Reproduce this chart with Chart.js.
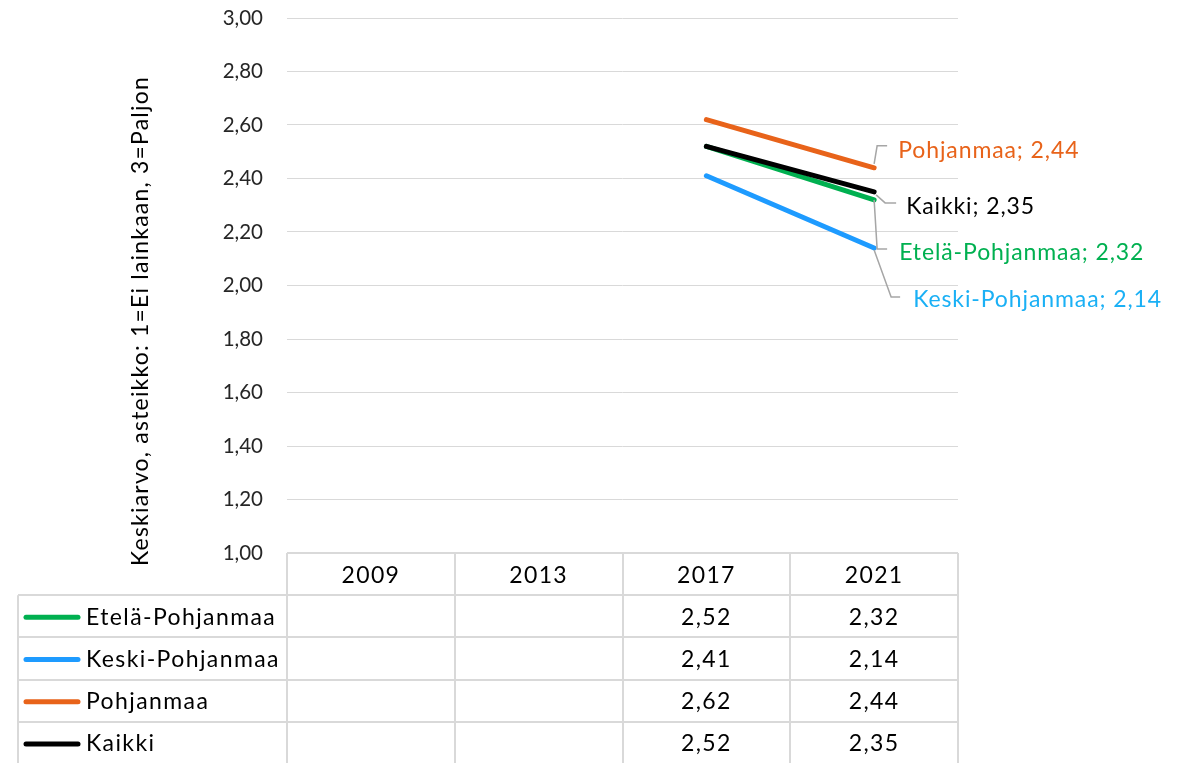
<!DOCTYPE html>
<html>
<head>
<meta charset="utf-8">
<script src="https://cdn.jsdelivr.net/npm/chart.js@4"></script>
<style>
  body { margin: 0; background: #fff; }
  #wrap { width: 1181px; height: 763px; position: relative; }
</style>
</head>
<body>
<div id="wrap"><canvas id="chart"></canvas></div>
<script>
// Data
const years = ["2009", "2013", "2017", "2021"];
const seriesNames = ["Etelä-Pohjanmaa", "Keski-Pohjanmaa", "Pohjanmaa", "Kaikki"];
const etelaPohjanmaa = [null, null, 2.52, 2.32];
const keskiPohjanmaa = [null, null, 2.41, 2.14];
const pohjanmaa = [null, null, 2.62, 2.44];
const kaikki = [null, null, 2.52, 2.35];
const yTicks = [1.0, 1.2, 1.4, 1.6, 1.8, 2.0, 2.2, 2.4, 2.6, 2.8, 3.0];
const yTitle = "Keskiarvo, asteikko: 1=Ei lainkaan, 3=Paljon";

const lineColors = ["#00B050", "#1E9BFF", "#E8631A", "#000000"];
const labelColors = ["#00B050", "#1AB0F5", "#E8631A", "#000000"];
const FONT = "Lato, 'Open Sans', sans-serif";
const TEXT_FONT = "23px " + FONT;

function fmt(v) {
    return v.toFixed(2).replace(".", ",");
}

// label offsets from the last point: leader path + text anchor
const labelLayout = [
    { path: [[0, 0], [3, 49], [13, 49]], text: [25, 53] },   // Etelä
    { path: [[0, 2], [17, 49], [26, 49]], text: [39, 52] },  // Keski
    { path: [[0, -4], [3, -22], [13, -22]], text: [24, -17] }, // Pohjanmaa
    { path: [[2, 3], [11, 11], [22, 11]], text: [32, 15] }   // Kaikki
];

// Draws the data table, y title and point labels
const tablePlugin = {
    id: "tablePlugin",
    afterDraw(chart) {
        const ctx = chart.ctx;
        const area = chart.chartArea;
        const x = chart.scales.x;
        const colW = x.getPixelForValue(1) - x.getPixelForValue(0);
        const left = 18;
        const headTop = area.bottom;
        const rowH = 42.2;
        const bodyTop = headTop + rowH;
        const bottom = bodyTop + rowH * seriesNames.length;

        ctx.save();
        // grid of the table
        ctx.strokeStyle = "#D9D9D9";
        ctx.lineWidth = 2;
        ctx.beginPath();
        ctx.moveTo(area.left, headTop);
        ctx.lineTo(area.right, headTop);
        for (let r = 0; r <= seriesNames.length; r++) {
            const y = Math.round(bodyTop + r * rowH);
            ctx.moveTo(left, y);
            ctx.lineTo(area.right, y);
        }
        ctx.moveTo(left, bodyTop);
        ctx.lineTo(left, bottom);
        for (let c = 0; c <= years.length; c++) {
            const cx = Math.round(area.left + c * colW);
            ctx.moveTo(cx, headTop);
            ctx.lineTo(cx, bottom);
        }
        ctx.stroke();

        ctx.font = TEXT_FONT;
        ctx.letterSpacing = "1.4px";
        ctx.fillStyle = "#000";
        ctx.textBaseline = "middle";
        ctx.textAlign = "center";
        years.forEach((yr, i) => {
            ctx.fillText(yr, x.getPixelForValue(i), headTop + rowH / 2 + 1);
        });

        chart.data.datasets.forEach((ds, r) => {
            const cy = bodyTop + r * rowH + rowH / 2 + 1;
            // legend key
            ctx.strokeStyle = lineColors[r];
            ctx.lineWidth = 5;
            ctx.lineCap = "round";
            ctx.beginPath();
            ctx.moveTo(26, cy);
            ctx.lineTo(78, cy);
            ctx.stroke();
            ctx.textAlign = "left";
            ctx.fillStyle = "#000";
            ctx.fillText(ds.label, 86, cy);
            ctx.textAlign = "center";
            ds.data.forEach((v, i) => {
                if (v !== null) ctx.fillText(fmt(v), x.getPixelForValue(i), cy);
            });
        });

        // y axis title
        ctx.letterSpacing = "1.2px";
        ctx.save();
        ctx.translate(141, 321);
        ctx.rotate(-Math.PI / 2);
        ctx.textAlign = "center";
        ctx.fillStyle = "#000";
        ctx.fillText(yTitle, 0, 0);
        ctx.restore();

        // point labels with leader lines
        ctx.letterSpacing = "0.9px";
        chart.data.datasets.forEach((ds, d) => {
            const meta = chart.getDatasetMeta(d);
            const last = ds.data.length - 1;
            const pt = meta.data[last];
            const lay = labelLayout[d];
            ctx.strokeStyle = "#A6A6A6";
            ctx.lineWidth = 1.5;
            ctx.lineCap = "butt";
            ctx.beginPath();
            lay.path.forEach((p, k) => {
                if (k === 0) ctx.moveTo(pt.x + p[0], pt.y + p[1]);
                else ctx.lineTo(pt.x + p[0], pt.y + p[1]);
            });
            ctx.stroke();
            ctx.fillStyle = labelColors[d];
            ctx.textAlign = "left";
            ctx.fillText(ds.label + "; " + fmt(ds.data[last]), pt.x + lay.text[0], pt.y + lay.text[1]);
        });
        ctx.restore();
    }
};

const seriesValues = [etelaPohjanmaa, keskiPohjanmaa, pohjanmaa, kaikki];

new Chart(document.getElementById("chart"), {
    type: "line",
    data: {
        labels: years,
        datasets: seriesNames.map((name, i) => ({
            label: name,
            data: seriesValues[i],
            borderColor: lineColors[i],
            borderWidth: 5,
            borderCapStyle: "round",
            pointRadius: 0,
            order: i === 3 ? 0 : 4 - i
        }))
    },
    options: {
        responsive: true,
        maintainAspectRatio: false,
        animation: false,
        layout: {
            padding: { left: 0, top: 18, right: 223, bottom: 210 }
        },
        plugins: {
            legend: { display: false },
            tooltip: { enabled: false }
        },
        scales: {
            x: {
                display: false,
                offset: true
            },
            y: {
                min: 1,
                max: 3,
                afterFit(axis) {
                    axis.width = 287;
                    axis.paddingTop = 0;
                    axis.paddingBottom = 0;
                },
                afterBuildTicks(axis) { axis.ticks = yTicks.map(v => ({ value: v })); },
                border: { display: false },
                grid: { color: "#D9D9D9", lineWidth: 1, drawTicks: false },
                ticks: {
                    padding: 24,
                    color: "#262626",
                    font: { family: FONT, size: 20.5 },
                    callback: v => fmt(v)
                }
            }
        }
    },
    plugins: [tablePlugin]
});
</script>
</body>
</html>
